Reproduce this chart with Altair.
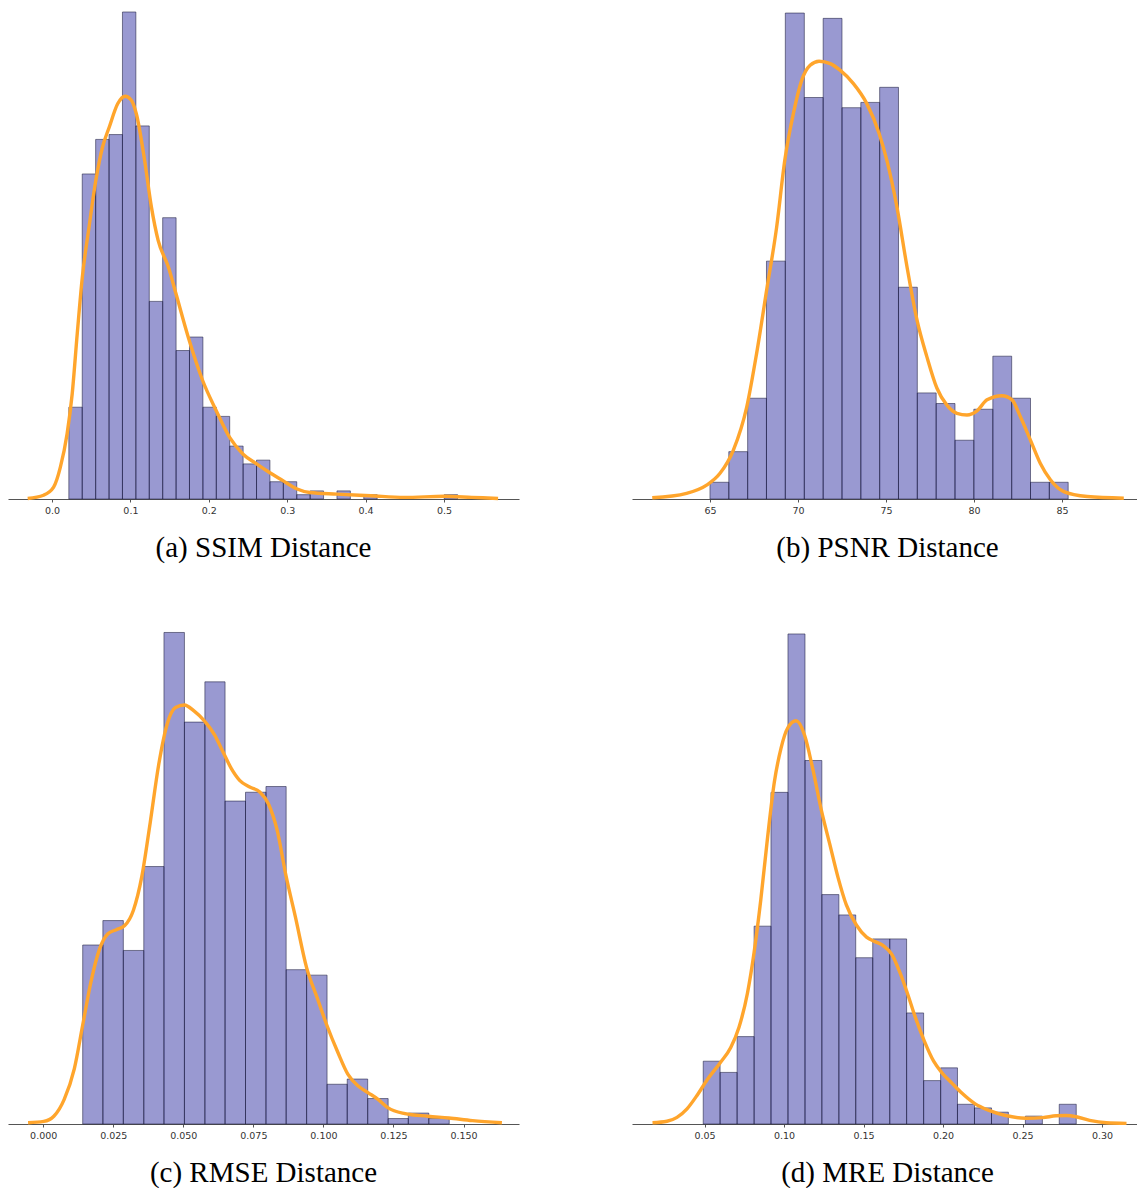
import altair as alt
import pandas as pd

# ---------------- (a) SSIM Distance ----------------
ssim_edges = [0.0215, 0.0386, 0.0557, 0.0728, 0.0899, 0.1070, 0.1241, 0.1412, 0.1583, 0.1754,
              0.1925, 0.2096, 0.2267, 0.2438, 0.2609, 0.2780, 0.2951, 0.3122, 0.3293, 0.3464,
              0.3635, 0.3806, 0.3977, 0.4148, 0.4319, 0.4490, 0.4661, 0.4832, 0.5003, 0.5174]
ssim_density = [1.70, 6.02, 6.66, 6.75, 9.02, 6.91, 3.66, 5.21, 2.75, 3.00,
                1.70, 1.53, 0.98, 0.65, 0.72, 0.32, 0.32, 0.08, 0.15, 0.0,
                0.15, 0.0, 0.08, 0.0, 0.0, 0.0, 0.0, 0.0, 0.08]
ssim_kde_x = [-0.031, -0.0108, 0.0021, 0.0107, 0.0193, 0.0258, 0.0322, 0.0387, 0.0473, 0.0559,
              0.0645, 0.0731, 0.0838, 0.0933, 0.101, 0.1075, 0.1182, 0.1268, 0.1354, 0.1484,
              0.1582, 0.175, 0.1923, 0.2094, 0.2266, 0.2438, 0.261, 0.2774, 0.2946, 0.3118,
              0.329, 0.3634, 0.4064, 0.4494, 0.501, 0.5355, 0.569]
ssim_kde_y = [0.01, 0.07, 0.22, 0.59, 1.21, 1.95, 3.06, 4.11, 5.04, 5.90,
              6.52, 6.89, 7.32, 7.46, 7.39, 7.14, 6.27, 5.41, 4.79, 4.30,
              3.80, 2.94, 2.19, 1.64, 1.14, 0.83, 0.65, 0.49, 0.34, 0.19,
              0.12, 0.09, 0.06, 0.03, 0.05, 0.03, 0.01]
ssim_ticks = [0.0, 0.1, 0.2, 0.3, 0.4, 0.5]

# ---------------- (b) PSNR Distance ----------------
psnr_edges = [65.00, 66.07, 67.14, 68.21, 69.28, 70.36, 71.43, 72.50, 73.57, 74.64,
              75.71, 76.78, 77.85, 78.92, 79.99, 81.07, 82.14, 83.21, 84.28, 85.35]
psnr_density = [0.0041, 0.0116, 0.0247, 0.0583, 0.1191, 0.0984, 0.1178, 0.0959, 0.0972, 0.1009,
                0.0519, 0.0260, 0.0234, 0.0144, 0.0220, 0.0350, 0.0247, 0.0041, 0.0041]
psnr_kde_x = [61.72, 63.67, 64.81, 65.57, 66.33, 67.09, 67.65, 68.22, 68.79, 69.25,
              69.74, 70.21, 70.69, 71.20, 71.83, 72.39, 73.15, 73.91, 74.61, 75.05,
              75.62, 76.19, 76.76, 77.32, 77.89, 78.46, 79.03, 79.60, 80.17, 80.74,
              81.59, 82.16, 82.63, 83.20, 83.77, 84.34, 85.10, 86.43, 88.51]
psnr_kde_y = [0.0003, 0.0014, 0.0034, 0.0063, 0.0120, 0.0226, 0.0357, 0.0512, 0.0667, 0.0830,
              0.0945, 0.1026, 0.1063, 0.1073, 0.1067, 0.1051, 0.1018, 0.0969, 0.0896, 0.0830,
              0.0716, 0.0570, 0.0439, 0.0349, 0.0272, 0.0230, 0.0210, 0.0206, 0.0216, 0.0243,
              0.0253, 0.0243, 0.0202, 0.0145, 0.0087, 0.0047, 0.0018, 0.0006, 0.0002]
psnr_ticks = [65, 70, 75, 80, 85]

# ---------------- (c) RMSE Distance ----------------
rmse_edges = [0.0141, 0.0213, 0.0286, 0.0359, 0.0431, 0.0504, 0.0577, 0.0649, 0.0722, 0.0795,
              0.0867, 0.0940, 0.1013, 0.1085, 0.1158, 0.1231, 0.1303, 0.1376, 0.1449]
rmse_density = [6.89, 7.83, 6.68, 9.91, 18.92, 15.47, 17.02, 12.43, 12.77, 12.99,
                5.94, 5.73, 1.53, 1.73, 0.98, 0.21, 0.42, 0.21]
rmse_kde_x = [-0.0054, 0.0002, 0.0038, 0.0075, 0.0111, 0.0141, 0.0171, 0.0201, 0.0231, 0.0261,
              0.0291, 0.0322, 0.0352, 0.0382, 0.0412, 0.0442, 0.0472, 0.0504, 0.0538, 0.0576,
              0.0611, 0.0641, 0.0671, 0.0701, 0.0737, 0.0773, 0.0804, 0.0834, 0.0867, 0.0900,
              0.0940, 0.0978, 0.1012, 0.1051, 0.1087, 0.1123, 0.1159, 0.1195, 0.1231, 0.1291,
              0.1373, 0.1448, 0.1532, 0.1637]
rmse_kde_y = [0.05, 0.10, 0.30, 0.95, 2.12, 3.81, 5.50, 6.73, 7.32, 7.48,
              7.64, 8.23, 9.53, 11.61, 13.82, 15.38, 16.03, 16.13, 15.90, 15.51,
              14.99, 14.34, 13.69, 13.23, 12.97, 12.78, 12.32, 11.35, 9.53, 7.97,
              6.02, 4.85, 3.81, 2.77, 1.92, 1.47, 1.21, 0.95, 0.62, 0.40,
              0.30, 0.23, 0.13, 0.05]
rmse_ticks = [0.0, 0.025, 0.05, 0.075, 0.1, 0.125, 0.15]

# ---------------- (d) MRE Distance ----------------
mre_edges = [0.0492, 0.0598, 0.0705, 0.0812, 0.0918, 0.1025, 0.1132, 0.1238, 0.1345, 0.1451,
             0.1558, 0.1665, 0.1771, 0.1878, 0.1985, 0.2091, 0.2198, 0.2305, 0.2411, 0.2518,
             0.2625, 0.2731, 0.2838]
mre_density = [2.07, 1.70, 2.88, 6.52, 10.93, 16.15, 11.98, 7.56, 6.89, 5.48,
               6.10, 6.10, 3.66, 1.43, 1.85, 0.65, 0.53, 0.39, 0.0, 0.26,
               0.0, 0.65]
mre_kde_x = [0.0173, 0.0264, 0.0327, 0.0390, 0.0454, 0.0517, 0.0599, 0.0665, 0.0717, 0.0770,
             0.0812, 0.0854, 0.0897, 0.0939, 0.0981, 0.1023, 0.1076, 0.1129, 0.1181, 0.1234,
             0.1287, 0.1340, 0.1392, 0.1456, 0.1519, 0.1572, 0.1624, 0.1677, 0.1730, 0.1776,
             0.1825, 0.1882, 0.1941, 0.1994, 0.2057, 0.2120, 0.2200, 0.2289, 0.2394, 0.2521,
             0.2627, 0.2711, 0.2774, 0.2838, 0.2922, 0.3027, 0.3154]
mre_kde_y = [0.04, 0.09, 0.22, 0.50, 0.95, 1.46, 2.02, 2.52, 3.19, 4.31,
             5.66, 7.39, 9.46, 11.26, 12.38, 13.05, 13.29, 12.82, 11.70, 10.36,
             9.24, 8.12, 7.22, 6.55, 6.16, 6.01, 5.88, 5.60, 4.98, 4.31,
             3.53, 2.74, 2.07, 1.68, 1.34, 1.01, 0.67, 0.45, 0.28, 0.19,
             0.21, 0.27, 0.28, 0.24, 0.12, 0.04, 0.02]
mre_ticks = [0.05, 0.10, 0.15, 0.20, 0.25, 0.30]

BAR_COLOR = "#00008b"
EDGE_COLOR = "#1c1c3c"
KDE_COLOR = "#ffa52c"


def panel(edges, density, kx, ky, xdom, ymax, ticks, fmt, caption, w, h, dx=0):
    bars = pd.DataFrame({"lo": edges[:-1], "hi": edges[1:], "density": density})
    bars = bars[bars["density"] > 0]
    kde = pd.DataFrame({"x": kx, "y": ky})
    xscale = alt.Scale(domain=xdom, nice=False, zero=False)
    yscale = alt.Scale(domain=[0, ymax], nice=False)
    xaxis = alt.Axis(values=ticks, format=fmt, title=None, grid=False,
                     domainColor="#555555", domainWidth=1.2, tickColor="#555555",
                     tickSize=3, labelFont="DejaVu Sans", labelFontSize=9.5,
                     labelColor="#333333", labelPadding=3, labelFlush=False)
    b = alt.Chart(bars).mark_rect(color=BAR_COLOR, fillOpacity=0.4, stroke=EDGE_COLOR,
                                  strokeOpacity=0.55, strokeWidth=1).encode(
        x=alt.X("lo:Q", scale=xscale, axis=xaxis),
        x2="hi:Q",
        y=alt.Y("density:Q", scale=yscale, axis=None),
        y2=alt.datum(0),
    )
    k = alt.Chart(kde).mark_line(color=KDE_COLOR, strokeWidth=3.4,
                                 interpolate="monotone").encode(
        x=alt.X("x:Q", scale=xscale),
        y=alt.Y("y:Q", scale=yscale),
    )
    return alt.layer(b, k).properties(
        width=w, height=h,
        title=alt.TitleParams(text=caption, orient="bottom", anchor="middle",
                              font="Liberation Serif", fontSize=29,
                              fontWeight="normal", color="black", offset=19, dx=dx),
    )


pa = panel(ssim_edges, ssim_density, ssim_kde_x, ssim_kde_y, [-0.0561, 0.5957], 9.242,
           ssim_ticks, ".1f", "(a) SSIM Distance", 511, 499)
pb = panel(psnr_edges, psnr_density, psnr_kde_x, psnr_kde_y, [60.57, 89.26], 0.1223,
           psnr_ticks, "d", "(b) PSNR Distance", 505, 499, dx=3)
pc = panel(rmse_edges, rmse_density, rmse_kde_x, rmse_kde_y, [-0.01256, 0.1698], 19.40,
           rmse_ticks, ".3f", "(c) RMSE Distance", 511, 504)
pd_ = panel(mre_edges, mre_density, mre_kde_x, mre_kde_y, [0.0044, 0.322], 16.61,
            mre_ticks, ".2f", "(d) MRE Distance", 505, 504, dx=3)

chart = alt.vconcat(
    alt.hconcat(pa, pb, spacing=113),
    alt.hconcat(pc, pd_, spacing=113),
    spacing=57,
).properties(
    padding={"left": 8, "top": 0, "right": 0, "bottom": 0},
    background="white",
).configure_view(stroke=None)

chart.save("out.html", embed_options={"renderer": "svg", "actions": False})
